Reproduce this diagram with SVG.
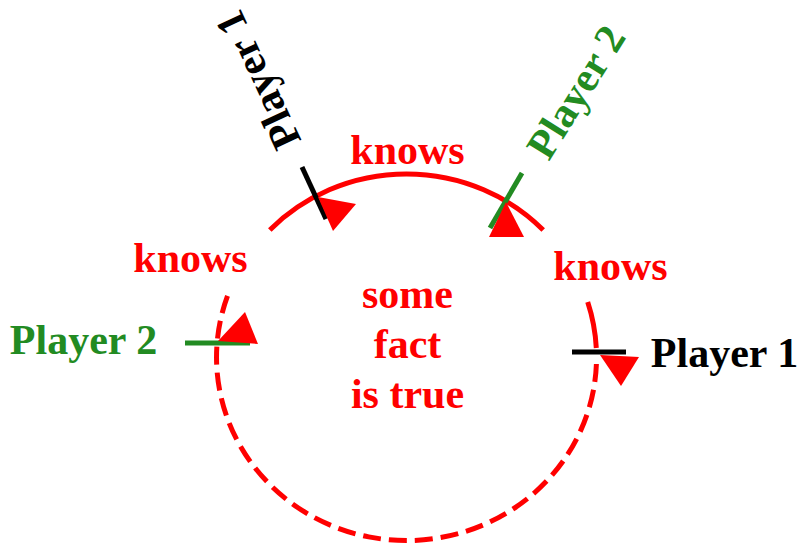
<svg xmlns="http://www.w3.org/2000/svg" width="800" height="546" viewBox="0 0 800 546">
<style>
.t{font-family:"Liberation Serif","Times New Roman",serif;font-weight:bold;font-size:42px;text-anchor:middle}
.red{fill:#FF0000}
.grn{fill:#228B22}
.blk{fill:#000000}
.arc{fill:none;stroke:#FF0000;stroke-width:5}
.dash{stroke-dasharray:18 8}
.tick{stroke-width:5;fill:none}
</style>
<rect width="800" height="546" fill="#FFFFFF"/>
<g id="connectors">
<path class="arc" d="M 269.8,230 A 190 183.25 0 0 1 543.2,230"/>
<path class="arc" d="M 587.7,302 A 190 183.25 0 0 1 596.3,348"/>
<path class="arc dash" d="M 596.4,364 A 190 183.25 0 1 1 229,292"/>
</g>
<g id="tick-p1-top">
<line class="tick" x1="302" y1="167" x2="326" y2="219" stroke="#000000"/>
<polygon class="red" points="318,197 356,204 333,231"/>
</g>
<g id="tick-p2-top">
<line class="tick" x1="522" y1="173" x2="490" y2="228" stroke="#228B22"/>
<polygon class="red" points="489,237 524,237 506,202"/>
</g>
<g id="tick-p1-right">
<line class="tick" x1="572" y1="352" x2="626" y2="352" stroke="#000000"/>
<polygon class="red" points="600,355 639,357 621,386"/>
</g>
<g id="tick-p2-left">
<line class="tick" x1="185" y1="343" x2="250" y2="343" stroke="#228B22"/>
<polygon class="red" points="218,341 245,312 258,344"/>
</g>
<g id="label-p1-top">
<text class="t blk" transform="translate(258,80) rotate(-115)" y="14">Player 1</text>
</g>
<g id="label-p2-top">
<text class="t grn" transform="translate(576,92) rotate(-58)" y="14">Player 2</text>
</g>
<g id="label-p1-right">
<text class="t blk" x="724.5" y="367">Player 1</text>
</g>
<g id="label-p2-left">
<text class="t grn" x="83.5" y="354">Player 2</text>
</g>
<g id="knows-top"><text class="t red" x="407.5" y="164">knows</text></g>
<g id="knows-left"><text class="t red" x="190.5" y="272">knows</text></g>
<g id="knows-right"><text class="t red" x="610.5" y="280">knows</text></g>
<g id="fact">
<text class="t red" x="407.5" y="308">some</text>
<text class="t red" x="407.5" y="358">fact</text>
<text class="t red" x="407.5" y="408">is true</text>
</g>
</svg>
